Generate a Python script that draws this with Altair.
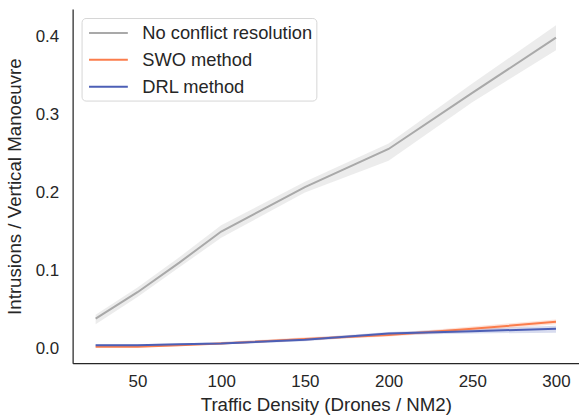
import altair as alt
import pandas as pd

density = [25, 50, 75, 100, 150, 200, 250, 300]
methods = ["No conflict resolution", "SWO method", "DRL method"]
colors = ["#a9a9a9", "#fb7d4c", "#4c5fb6"]

none_mean = [0.038, 0.072, 0.110, 0.150, 0.207, 0.256, 0.328, 0.399]
none_lo = [0.031, 0.066, 0.104, 0.142, 0.200, 0.241, 0.316, 0.383]
none_hi = [0.043, 0.078, 0.117, 0.158, 0.214, 0.263, 0.340, 0.415]

swo_mean = [0.002, 0.002, 0.004, 0.006, 0.012, 0.017, 0.025, 0.034]
swo_lo = [0.001, 0.001, 0.003, 0.005, 0.010, 0.015, 0.022, 0.031]
swo_hi = [0.003, 0.003, 0.005, 0.008, 0.014, 0.019, 0.028, 0.037]

drl_mean = [0.004, 0.004, 0.005, 0.006, 0.011, 0.019, 0.022, 0.025]
drl_lo = [0.003, 0.003, 0.004, 0.005, 0.009, 0.017, 0.019, 0.020]
drl_hi = [0.005, 0.005, 0.006, 0.008, 0.013, 0.021, 0.025, 0.029]

rows = []
for m, means, los, his in [
    (methods[0], none_mean, none_lo, none_hi),
    (methods[1], swo_mean, swo_lo, swo_hi),
    (methods[2], drl_mean, drl_lo, drl_hi),
]:
    for d, v, lo, hi in zip(density, means, los, his):
        rows.append({"density": d, "method": m, "mean": v, "lo": lo, "hi": hi,
                     "order": methods.index(m)})
df = pd.DataFrame(rows)

FONT = "Liberation Sans"
TXT = "#262626"

xscale = alt.Scale(domain=[11.25, 313.75], nice=False, zero=False)
yscale = alt.Scale(domain=[-0.0192, 0.4358], nice=False, zero=False)
cscale = alt.Scale(domain=methods, range=colors)
legend = alt.Legend(title=None, orient="none", legendX=9, legendY=9)

base = alt.Chart(df)

band = base.mark_area(opacity=0.22, clip=True).encode(
    x=alt.X("density:Q", scale=xscale),
    y=alt.Y("lo:Q", scale=yscale),
    y2="hi:Q",
    color=alt.Color("method:N", scale=cscale, sort=methods, legend=legend),
    detail="method:N",
    order="order:Q",
)

line = base.mark_line(strokeWidth=2, clip=True).encode(
    x=alt.X("density:Q", scale=xscale,
            axis=alt.Axis(title="Traffic Density (Drones / NM2)",
                          values=[50, 100, 150, 200, 250, 300])),
    y=alt.Y("mean:Q", scale=yscale,
            axis=alt.Axis(title="Intrusions / Vertical Manoeuvre",
                          values=[0.0, 0.1, 0.2, 0.3, 0.4], format=".1f")),
    color=alt.Color("method:N", scale=cscale, sort=methods, legend=legend),
    order="order:Q",
)

chart = alt.layer(band, line).properties(
    width=509, height=356,
    autosize=alt.AutoSizeParams(type="none"),
    padding={"left": 73, "top": 8, "right": 0, "bottom": 55},
).configure_view(stroke=None).configure_axis(
    grid=False, ticks=False, domainColor="#262626", domainWidth=1.25,
    labelFont=FONT, labelFontSize=17, labelColor=TXT,
    titleFont=FONT, titleFontSize=18.8, titleColor=TXT, titleFontWeight="normal",
).configure_axisX(labelPadding=10, titlePadding=7).configure_axisY(
    labelPadding=14, titlePadding=11
).configure_legend(
    labelFont=FONT, labelFontSize=18.4, labelColor=TXT,
    symbolType="M-2,0H2", symbolStrokeWidth=2, symbolSize=380,
    symbolOffset=12, labelOffset=23,
    symbolOpacity=1,
    fillColor="white", strokeColor="#d6d6d6", cornerRadius=4,
    padding=4, rowPadding=6, labelLimit=400,
)

chart.save("out.html", embed_options={"renderer": "svg", "actions": False})
